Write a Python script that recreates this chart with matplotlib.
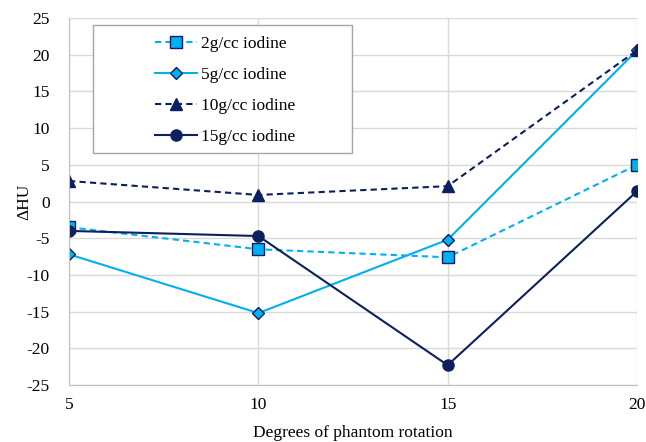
import matplotlib.pyplot as plt
from matplotlib.patches import Rectangle

plt.rcParams['font.family'] = ['Liberation Serif', 'DejaVu Serif']
plt.rcParams['axes.unicode_minus'] = False

degrees = [5, 10, 15, 20]
iodine_2 = [-3.5, -6.5, -7.6, 5.0]
iodine_5 = [-7.2, -15.2, -5.2, 20.6]
iodine_10 = [2.8, 0.9, 2.1, 20.6]
iodine_15 = [-4.0, -4.7, -22.3, 1.4]

light = '#00B0F0'
dark = '#0C1F5E'

fig = plt.figure(figsize=(6.46, 4.42), dpi=100)
ax = fig.add_axes([0.107, 0.129, 0.879, 0.830])

ax.plot(degrees, iodine_2, linestyle='--', color=light, marker='s', markersize=8,
        markerfacecolor=light, markeredgecolor=dark, markeredgewidth=1, lw=1.5,
        label='2g/cc iodine', dashes=(3, 2))
ax.plot(degrees, iodine_5, linestyle='-', color=light, marker='D', markersize=6.5,
        markerfacecolor=light, markeredgecolor=dark, markeredgewidth=1, lw=1.5,
        label='5g/cc iodine')
ax.plot(degrees, iodine_10, linestyle='--', color=dark, marker='^', markersize=8,
        lw=1.5, label='10g/cc iodine', dashes=(3, 2))
ax.plot(degrees, iodine_15, linestyle='-', color=dark, marker='o', markersize=8,
        lw=1.5, label='15g/cc iodine')

ax.set_xlim(5, 20)
ax.set_ylim(-25, 25)
ax.set_xticks(degrees)
ax.set_yticks(range(-25, 30, 5))
ax.grid(True, color='#D9D9D9', lw=1)
ax.set_axisbelow(True)
for s in ['top', 'right']:
    ax.spines[s].set_visible(False)
for s in ['left', 'bottom']:
    ax.spines[s].set_color('#BFBFBF')
ax.tick_params(length=0, labelsize=12.5)
ax.tick_params(axis='y', pad=14)
ax.tick_params(axis='x', pad=9)
ax.set_xlabel('Degrees of phantom rotation', fontsize=12.5, labelpad=8)
ax.set_ylabel('ΔHU', fontsize=12.5, labelpad=-4)

# legend box frame (wider than the entries, like the original)
ax.add_patch(Rectangle((0.042, 0.632), 0.456, 0.349, transform=ax.transAxes,
                       facecolor='white', edgecolor='#A6A6A6', lw=1, zorder=4))
leg = ax.legend(loc='upper left', bbox_to_anchor=(0.151, 0.951), fontsize=12.5,
                frameon=False, handlelength=2.4, handletextpad=0.25,
                labelspacing=0.85, borderpad=0, borderaxespad=0)
leg.set_zorder(5)

fig.savefig('out.png', dpi=100, facecolor='white')
